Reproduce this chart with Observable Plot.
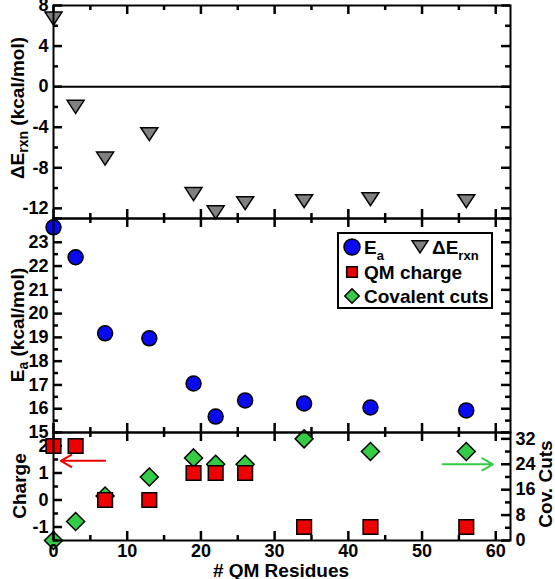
<!DOCTYPE html>
<html><head><meta charset="utf-8">
<script src="https://cdn.jsdelivr.net/npm/d3@7"></script>
<script src="https://cdn.jsdelivr.net/npm/@observablehq/plot@0.6"></script>
<style>
body{margin:0;background:#fff;}
#chart{position:relative;width:555px;height:579px;overflow:hidden;font-family:"Liberation Sans",Arial,sans-serif;font-weight:bold;color:#000;}
#chart svg{position:absolute;left:0;overflow:visible;}
.lab{position:absolute;white-space:nowrap;font-size:19px;line-height:1;transform:translate(-50%,-50%);}
.rot{transform:translate(-50%,-50%) rotate(-90deg);}
.lab sub{font-size:14px;vertical-align:-4px;line-height:0;}
</style></head><body><div id="chart"></div>
<script>
// ---- data ----
const residues = [0, 3, 7, 13, 19, 22, 26, 34, 43, 56];
const dErxn    = [6.8, -1.9, -7.0, -4.6, -10.5, -12.3, -11.4, -11.2, -11.0, -11.2];
const ea       = [23.63, 22.37, 19.17, 18.96, 17.06, 15.67, 16.35, 16.22, 16.05, 15.93];
const qmCharge = [2, 2, 0, 0, 1, 1, 1, -1, -1, -1];
const covCuts  = [0, 6, 14, 20, 26, 24, 24, 32, 28, 28];
const xTickLabels = [0, 10, 20, 30, 40, 50, 60];
const dErxnTickLabels = [-12, -8, -4, 0, 4, 8];
const eaTickLabels = [15, 16, 17, 18, 19, 20, 21, 22, 23];
const chargeTickLabels = [-1, 0, 1, 2];
const covTickLabels = [0, 8, 16, 24, 32];
const chargeArrow = [{x1: 7, x2: 1, y: 1.45}];
const covArrow = [{x1: 52.8, x2: 59.6, y: 24}];

const rows = residues.map((r, i) => ({res: r, dE: dErxn[i], ea: ea[i], q: qmCharge[i], cov: covCuts[i]}));

const BLUE = "#0a0aee", RED = "#ee0000", GREEN = "#33cc44", GRAY = "#808080";
const triDown = {
  draw(ctx, size) {
    const s = Math.sqrt(size);
    ctx.moveTo(-0.64 * s, -0.42 * s);
    ctx.lineTo(0.64 * s, -0.42 * s);
    ctx.lineTo(0, 0.56 * s);
    ctx.closePath();
  }
};

const W = 555, ML = 53, MR = 45, innerW = W - ML - MR;
const xDomain = [0, 62];
const fmt = d => String(d);
const common = {
  width: W, marginLeft: ML, marginRight: MR,
  x: {domain: xDomain},
  style: {background: "transparent", overflow: "visible", fontFamily: "Liberation Sans, Arial, sans-serif", fontSize: "18px", fontWeight: "bold", color: "black"}
};

const xMajor = d3.range(0, 61, 10), xMinor = d3.range(5, 61, 10);
// inward tick marks along top and bottom edges (pixel length converted to data units)
function xTicks(yDom, innerH) {
  const k = (yDom[1] - yDom[0]) / innerH;
  const m = [];
  for (const [vals, len] of [[xMajor, 9], [xMinor, 5]]) {
    m.push(Plot.ruleX(vals, {x: d => d, y1: yDom[0], y2: yDom[0] + len * k, stroke: "black", strokeWidth: 2.5}));
    m.push(Plot.ruleX(vals, {x: d => d, y1: yDom[1], y2: yDom[1] - len * k, stroke: "black", strokeWidth: 2.5}));
  }
  return m;
}
// inward tick marks along left/right edges
function yTicks(major, minor, sides) {
  const k = (xDomain[1] - xDomain[0]) / innerW;
  const m = [];
  for (const side of sides) {
    const x0 = side === "left" ? xDomain[0] : xDomain[1], dir = side === "left" ? 1 : -1;
    for (const [vals, len] of [[major, 9], [minor, 5]]) {
      m.push(Plot.ruleY(vals, {y: d => d, x1: x0, x2: x0 + dir * len * k, stroke: "black", strokeWidth: 2.5}));
    }
  }
  return m;
}

const chart = document.getElementById("chart");

// ---- top panel: ΔE_rxn ----
const topH = 218, topMT = 5, topDom = [-13, 8];
const topPlot = Plot.plot({
  ...common, height: topH, marginTop: topMT, marginBottom: 0,
  y: {domain: topDom, label: null},
  marks: [
    Plot.ruleY([0], {strokeWidth: 2}),
    Plot.axisX({anchor: "bottom", ticks: [], tickSize: 0, label: null}),
    Plot.axisY({anchor: "left", ticks: dErxnTickLabels, tickSize: 0, tickPadding: 5, tickFormat: fmt, label: null}),
    ...xTicks(topDom, topH - topMT),
    ...yTicks(d3.range(-12, 9, 4), d3.range(-10, 9, 4), ["left", "right"]),
    Plot.dot(rows, {x: "res", y: "dE", symbol: triDown, r: 7.5, fill: GRAY, stroke: "black", strokeWidth: 1.5}),
    Plot.frame({strokeWidth: 2})
  ]
});
topPlot.style.top = "0px";
chart.appendChild(topPlot);

// ---- middle panel: Ea ----
const midH = 214, midDom = [15, 24];
const midPlot = Plot.plot({
  ...common, height: midH, marginTop: 0, marginBottom: 0,
  y: {domain: midDom, label: null},
  marks: [
    Plot.axisX({anchor: "bottom", ticks: [], tickSize: 0, label: null}),
    Plot.axisY({anchor: "left", ticks: eaTickLabels, tickSize: 0, tickPadding: 5, tickFormat: fmt, label: null}),
    ...xTicks(midDom, midH),
    ...yTicks(d3.range(15, 24.1, 1), d3.range(15.5, 24, 1), ["left", "right"]),
    Plot.dot(rows, {x: "res", y: "ea", r: 7.5, fill: BLUE, stroke: "black", strokeWidth: 1.5}),
    Plot.frame({strokeWidth: 2})
  ]
});
midPlot.style.top = "218px";
chart.appendChild(midPlot);

// ---- bottom panel: covalent cuts (right axis, drawn underneath) ----
const botH = 147, botMB = 39, covDom = [0, 34], chgDom = [-1.5, 2.5];
const bottomCommon = {...common, height: botH, marginTop: 0, marginBottom: botMB};
const covPlot = Plot.plot({
  ...bottomCommon,
  y: {domain: covDom, label: null},
  marks: [
    Plot.axisX({anchor: "bottom", ticks: [], tickSize: 0, label: null}),
    Plot.axisY({anchor: "right", ticks: covTickLabels, tickSize: 0, tickPadding: 5, tickFormat: fmt, label: null}),
    ...yTicks(d3.range(0, 33, 8), d3.range(4, 33, 8), ["right"]),
    Plot.arrow(covArrow, {x1: "x1", x2: "x2", y1: "y", y2: "y", stroke: GREEN, strokeWidth: 2, headLength: 9, bend: 0}),
    Plot.dot(rows, {x: "res", y: "cov", symbol: "diamond2", r: 8.1, fill: GREEN, stroke: "black", strokeWidth: 1.5})
  ]
});
covPlot.style.top = "432px";
chart.appendChild(covPlot);

// ---- bottom panel: QM charge ----
const chgPlot = Plot.plot({
  ...bottomCommon,
  y: {domain: chgDom, label: null},
  marks: [
    Plot.axisX({anchor: "bottom", ticks: xTickLabels, tickSize: 0, tickPadding: 4, tickFormat: fmt, label: null}),
    Plot.axisY({anchor: "left", ticks: chargeTickLabels, tickSize: 0, tickPadding: 5, tickFormat: fmt, label: null}),
    ...xTicks(chgDom, botH - botMB),
    ...yTicks(d3.range(-1, 2.1, 1), d3.range(-1.5, 2.6, 1), ["left"]),
    Plot.arrow(chargeArrow, {x1: "x1", x2: "x2", y1: "y", y2: "y", stroke: RED, strokeWidth: 2, headLength: 9, bend: 0}),
    Plot.dot(rows, {x: "res", y: "q", symbol: "square", r: 8.3, fill: RED, stroke: "black", strokeWidth: 1.5}),
    Plot.frame({strokeWidth: 2})
  ]
});
chgPlot.style.top = "432px";
chart.appendChild(chgPlot);

// ---- axis titles ----
function label(html, x, y, rot) {
  const d = document.createElement("div");
  d.className = "lab" + (rot ? " rot" : "");
  d.style.left = x + "px"; d.style.top = y + "px";
  d.innerHTML = html;
  chart.appendChild(d);
}
label("&Delta;E<sub>rxn</sub> (kcal/mol)", 17, 108, true);
label("E<sub>a</sub> (kcal/mol)", 17, 325, true);
label("Charge", 19, 486, true);
label("Cov. Cuts", 545, 484, true);
label("# QM Residues", 281, 570, false);

// ---- legend ----
const lg = d3.create("svg").attr("width", 156).attr("height", 77)
  .style("left", "337px").style("top", "232px")
  .style("font-family", "Liberation Sans, Arial, sans-serif").style("font-weight", "bold").style("font-size", "19px");
lg.append("rect").attr("x", 1).attr("y", 1).attr("width", 154).attr("height", 75).attr("fill", "white").attr("stroke", "black").attr("stroke-width", 2);
const sym = (type, size) => d3.symbol(type, size)();
lg.append("path").attr("d", sym(d3.symbolCircle, Math.PI * 8 * 8)).attr("transform", "translate(15,15)").attr("fill", BLUE).attr("stroke", "black").attr("stroke-width", 1.5);
let t = lg.append("text").attr("x", 27).attr("y", 22);
t.append("tspan").text("E");
t.append("tspan").attr("font-size", 13).attr("dy", 6).text("a");
lg.append("path").attr("d", sym(triDown, Math.PI * 7 * 7)).attr("transform", "translate(83,14)").attr("fill", GRAY).attr("stroke", "black").attr("stroke-width", 1.5);
t = lg.append("text").attr("x", 95).attr("y", 22);
t.append("tspan").text("\u0394E");
t.append("tspan").attr("font-size", 13).attr("dy", 6).text("rxn");
lg.append("path").attr("d", sym(d3.symbolSquare, Math.PI * 6 * 6)).attr("transform", "translate(15,40)").attr("fill", RED).attr("stroke", "black").attr("stroke-width", 1.5);
lg.append("text").attr("x", 27).attr("y", 47).text("QM charge");
lg.append("path").attr("d", sym(d3.symbolDiamond2, Math.PI * 6.5 * 6.5)).attr("transform", "translate(15,64)").attr("fill", GREEN).attr("stroke", "black").attr("stroke-width", 1.5);
lg.append("text").attr("x", 27).attr("y", 71).text("Covalent cuts");
chart.appendChild(lg.node());
</script>
</body></html>
